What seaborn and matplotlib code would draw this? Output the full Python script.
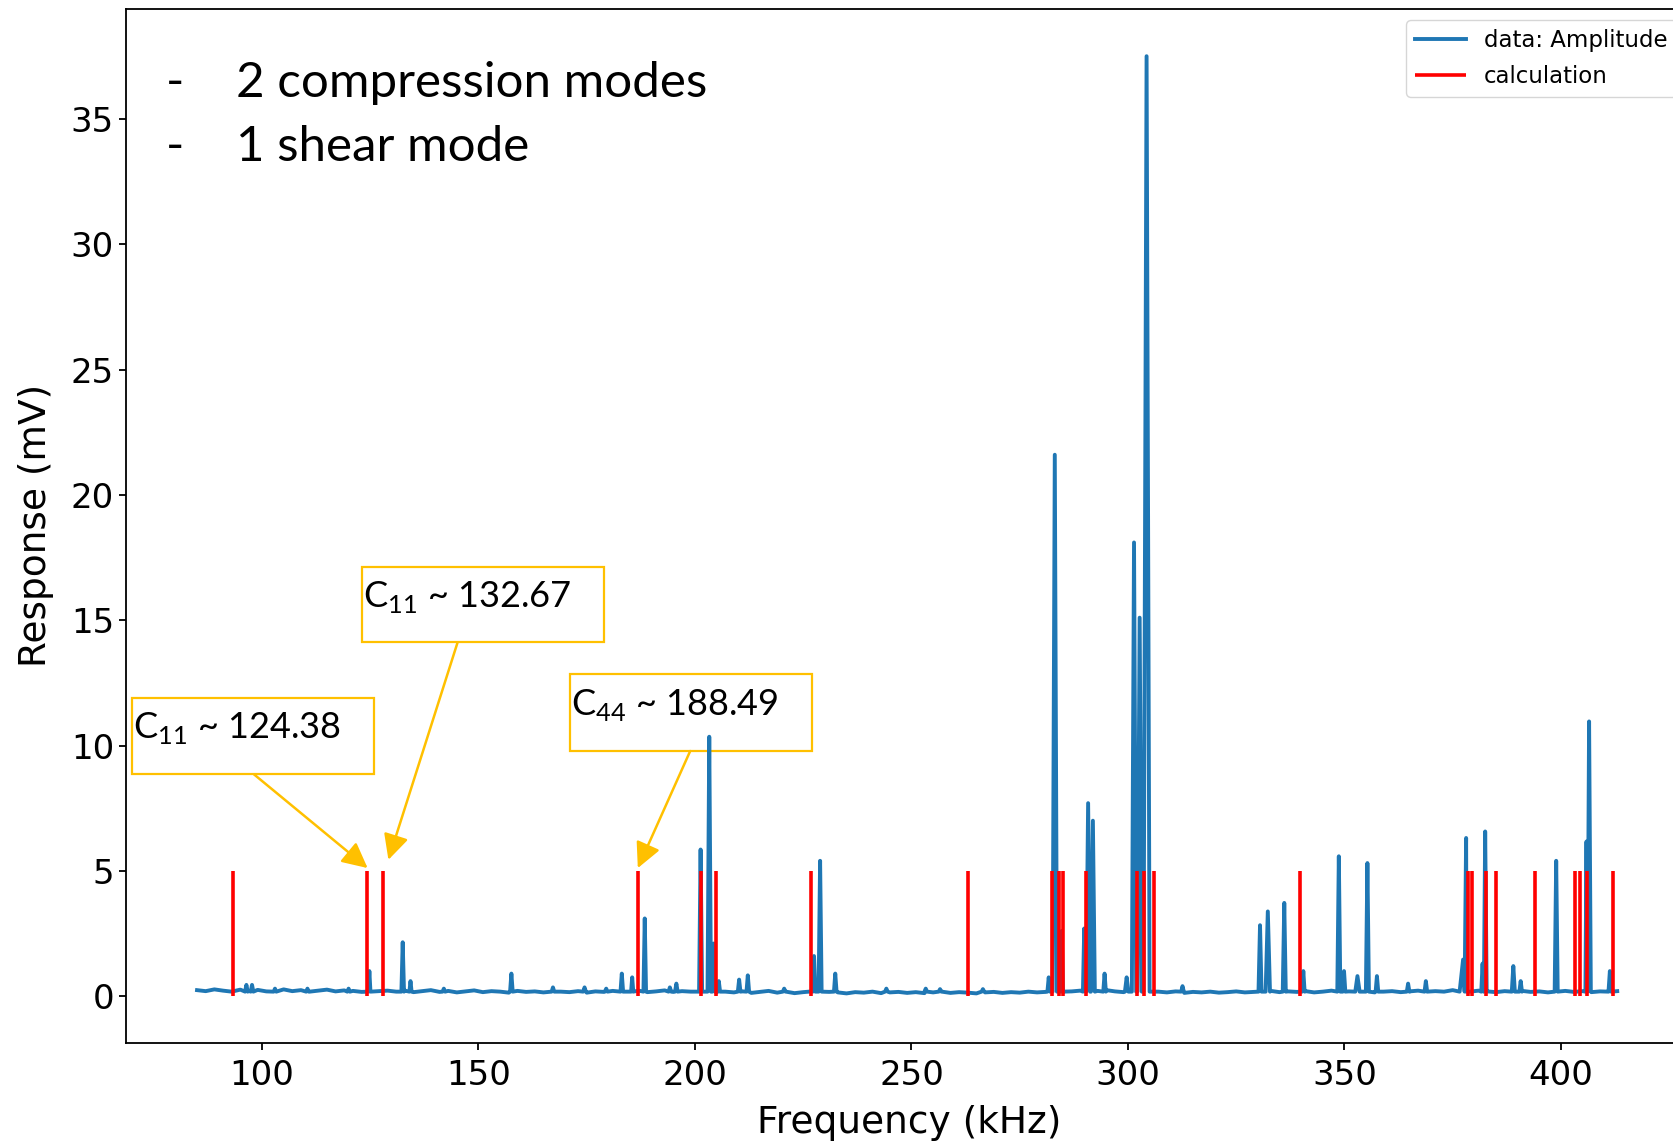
import numpy as np
import pandas as pd
import matplotlib
matplotlib.use("Agg")
import matplotlib.pyplot as plt
import seaborn as sns
from matplotlib.patches import Rectangle

# ---------------- data ----------------
# measured spectrum: baseline samples every 2 kHz from 85 kHz
baseline_start = 85.0
baseline_step = 2.0
baseline_values = [
    0.24, 0.20, 0.27, 0.22, 0.18, 0.26, 0.21, 0.25, 0.19, 0.23, 0.27, 0.20, 0.24, 0.18, 0.22, 0.26,
    0.19, 0.23, 0.21, 0.17, 0.24, 0.20, 0.22,
    0.18, 0.22, 0.16, 0.20, 0.24, 0.17, 0.21, 0.15, 0.19, 0.23, 0.16, 0.20, 0.18, 0.14, 0.21, 0.17,
    0.19, 0.15, 0.22, 0.18, 0.16, 0.20, 0.14, 0.19, 0.17, 0.21, 0.15, 0.18, 0.22, 0.16, 0.19, 0.23,
    0.17, 0.20, 0.18,
    0.16, 0.20, 0.14, 0.18, 0.15, 0.19, 0.13, 0.17, 0.21, 0.14, 0.18, 0.12, 0.16, 0.19, 0.13, 0.17,
    0.15, 0.11, 0.16, 0.14, 0.18, 0.12, 0.15, 0.17, 0.13, 0.16, 0.12, 0.15, 0.18, 0.13, 0.16, 0.14,
    0.11, 0.15, 0.17, 0.13, 0.16, 0.14, 0.18, 0.15,
    0.17, 0.20, 0.16, 0.19, 0.22, 0.18, 0.21, 0.24, 0.19, 0.16, 0.20, 0.17, 0.14, 0.18, 0.15, 0.19,
    0.13, 0.17, 0.15, 0.18, 0.14, 0.16, 0.19, 0.15, 0.17,
    0.18, 0.21, 0.16, 0.19, 0.17, 0.20, 0.15, 0.18, 0.22, 0.16, 0.19, 0.17, 0.21, 0.15, 0.18, 0.20,
    0.16, 0.19, 0.22, 0.17, 0.20, 0.18, 0.24, 0.21, 0.18, 0.22, 0.19, 0.16, 0.20, 0.18, 0.21, 0.17,
    0.19, 0.15, 0.18, 0.21, 0.17, 0.20, 0.16, 0.19, 0.22, 0.20,
]

# resonance peaks of the measured amplitude (kHz, mV, half base width kHz)
peak_freq = [96.4, 97.7, 103.0, 110.5, 120.0, 124.8, 132.5, 134.3, 142.0, 157.6,
             167.2, 174.5, 179.5, 183.1, 185.5, 188.4, 194.2, 195.7, 201.3, 203.3,
             204.3, 205.5, 210.2, 212.2, 220.6, 227.5, 228.9, 232.4, 244.2, 253.3,
             256.6, 266.5, 281.7, 283.1, 284.7, 289.9, 290.8, 291.9, 294.6, 299.7,
             301.4, 302.7, 304.3, 312.6, 330.5, 332.3, 336.1, 340.5, 348.7, 349.9,
             353.0, 355.3, 357.5, 364.7, 368.8, 377.4, 378.1, 381.9, 382.5, 389.0,
             390.7, 398.9, 405.9, 406.5, 411.3]
peak_height = [0.45, 0.45, 0.30, 0.30, 0.30, 1.00, 2.15, 0.60, 0.30, 0.90,
               0.35, 0.35, 0.30, 0.90, 0.75, 3.10, 0.35, 0.50, 5.85, 10.35,
               2.10, 0.60, 0.66, 0.83, 0.30, 1.60, 5.40, 0.90, 0.30, 0.30,
               0.28, 0.28, 0.75, 21.6, 2.60, 2.70, 7.70, 7.00, 0.90, 0.75,
               18.1, 15.1, 37.5, 0.40, 2.83, 3.38, 3.72, 1.00, 5.58, 1.00,
               0.80, 5.31, 0.80, 0.50, 0.60, 1.46, 6.31, 1.30, 6.57, 1.20,
               0.60, 5.40, 6.17, 10.96, 1.00]
peak_halfwidth = [0.3, 0.3, 0.3, 0.3, 0.3, 0.25, 0.3, 0.25, 0.3, 0.3,
                  0.3, 0.3, 0.3, 0.3, 0.25, 0.3, 0.3, 0.3, 0.35, 0.4,
                  0.3, 0.3, 0.3, 0.3, 0.3, 0.3, 0.35, 0.3, 0.3, 0.3,
                  0.3, 0.3, 0.3, 0.5, 0.3, 0.3, 0.45, 0.45, 0.3, 0.4,
                  0.5, 0.5, 0.7, 0.3, 0.35, 0.5, 0.35, 0.3, 0.35, 0.3,
                  0.5, 0.35, 0.3, 0.3, 0.3, 0.8, 0.35, 0.3, 0.35, 0.35,
                  0.3, 0.35, 0.25, 0.4, 0.3]
peak_base = 0.18

# calculated resonance frequencies (kHz)
calc_freq = [93.2, 124.2, 128.0, 186.8, 201.4, 204.9, 226.7, 263.0,
             282.5, 284.1, 285.1, 290.3, 302.1, 303.7, 306.0, 339.8,
             378.6, 379.5, 382.7, 385.0, 394.1, 403.2, 404.5, 406.0, 412.1]
calc_height = 5.0

x_ticks = [100, 150, 200, 250, 300, 350, 400]
y_ticks = [0, 5, 10, 15, 20, 25, 30, 35]

header_lines = ["2 compression modes", "1 shear mode"]

annot_labels = [r"C$_{\mathregular{11}}$ ~ 124.38",
                r"C$_{\mathregular{11}}$ ~ 132.67",
                r"C$_{\mathregular{44}}$ ~ 188.49"]
# box (x0, x1, y0, y1) in data units, text anchor, arrow start and tip
annot_box = [(70.05, 125.98, 8.85, 11.91), (123.0, 178.98, 14.12, 17.14), (171.1, 227.0, 9.78, 12.84)]
annot_text_xy = [(70.3, 10.31), (123.3, 15.54), (171.3, 11.22)]
annot_arrow_from = [(98.15, 8.85), (145.15, 14.1), (198.9, 9.78)]
annot_arrow_to = [(124.4, 5.11), (129.2, 5.44), (186.8, 5.11)]

# ---------------- build the spectrum polyline ----------------
base_f = baseline_start + baseline_step * np.arange(len(baseline_values))
pts = []
for f, v in zip(base_f, baseline_values):
    if not any(abs(f - c) <= w for c, w in zip(peak_freq, peak_halfwidth)):
        pts.append((f, v))
for c, h, w in zip(peak_freq, peak_height, peak_halfwidth):
    pts.append((c - w, peak_base))
    pts.append((c, h))
    pts.append((c + w, peak_base))
pts.sort()
df = pd.DataFrame(pts, columns=["Frequency (kHz)", "Amplitude"])

# ---------------- figure ----------------
plt.rcParams["axes.linewidth"] = 1.3
plt.rcParams["xtick.major.width"] = 1.3
plt.rcParams["ytick.major.width"] = 1.3
plt.rcParams["xtick.major.size"] = 5
plt.rcParams["ytick.major.size"] = 5
plt.rcParams["mathtext.fontset"] = "custom"
plt.rcParams["mathtext.rm"] = "Lato"

fig = plt.figure(figsize=(16.73, 11.44), dpi=100)
ax = fig.add_axes([0.0752, 0.0887, 0.9365, 0.9038])

sns.lineplot(data=df, x="Frequency (kHz)", y="Amplitude", ax=ax, color="#1f77b4",
             linewidth=2.8, estimator=None, sort=False, label="data: Amplitude", zorder=3)
ax.vlines(calc_freq, 0, calc_height, color="red", linewidth=2.6, label="calculation", zorder=4)

ax.set_xlim(68.55, 430.4)
ax.set_ylim(-1.85, 39.4)
ax.set_xticks(x_ticks)
ax.set_yticks(y_ticks)
ax.tick_params(labelsize=24.5)
ax.tick_params(axis="x", pad=7)
ax.set_xlabel("Frequency (kHz)", fontsize=27, labelpad=9)
ax.set_ylabel("Response (mV)", fontsize=27, labelpad=12)

leg = ax.legend(loc="upper left", bbox_to_anchor=(1406 / 1673, 1 - 20 / 1144),
                bbox_transform=fig.transFigure, borderaxespad=0, fontsize=16.5,
                handlelength=2.2, labelspacing=0.55)

# header text
gold = "#FFC000"
for i, line in enumerate(header_lines):
    yb = 1 - (97 + 64 * i) / 1144
    fig.text(166 / 1673, yb, "-", fontsize=35.5, family="Lato", va="baseline")
    fig.text(236 / 1673, yb, line, fontsize=35.5, family="Lato", va="baseline")

# annotation boxes
for lab, (x0, x1, y0, y1), (tx, ty), a0, a1 in zip(annot_labels, annot_box, annot_text_xy,
                                                   annot_arrow_from, annot_arrow_to):
    ax.add_patch(Rectangle((x0, y0), x1 - x0, y1 - y0, facecolor="white",
                           edgecolor=gold, linewidth=1.6, zorder=1.5))
    ax.text(tx, ty, lab, fontsize=26, family="Lato", va="baseline", ha="left", zorder=6)
    ax.annotate("", xy=a1, xytext=a0,
                arrowprops=dict(arrowstyle="-|>,head_length=0.7,head_width=0.35",
                                color=gold, lw=1.8, mutation_scale=22,
                                shrinkA=0, shrinkB=0), zorder=6)

fig.savefig("out.png", dpi=100)
